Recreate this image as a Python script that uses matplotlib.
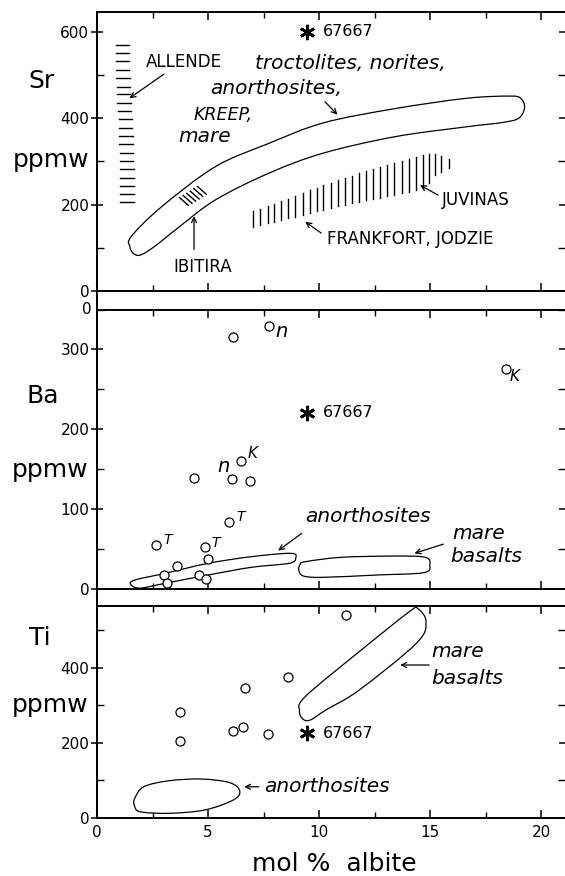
import numpy as np
import matplotlib
matplotlib.use('Agg')
import matplotlib.pyplot as plt
from matplotlib.path import Path
from matplotlib.patches import PathPatch
from matplotlib.lines import Line2D
from matplotlib.ticker import MultipleLocator

plt.rcParams['font.family'] = ['DejaVu Sans']

# ---------------- data ----------------
# 67667 (asterisk) in each panel
star_x = 9.45
sr_star = 600
ba_star = 221
ti_star = 225

# Sr panel: ALLENDE dashes (y values), x range of each dash
allende_y = [570, 551, 532, 512, 493, 473, 455, 436, 416, 397,
             378, 359, 339, 320, 301, 282, 262, 244, 224, 205]
allende_x0 = [0.85, 0.85, 0.85, 0.85, 0.87, 0.88, 0.9, 0.92, 0.95, 0.97,
              0.98, 1.0, 1.0, 1.02, 1.03, 1.05, 1.05, 1.05, 1.05, 1.05]
allende_x1 = [1.45, 1.45, 1.45, 1.45, 1.47, 1.48, 1.5, 1.52, 1.55, 1.57,
              1.58, 1.6, 1.6, 1.62, 1.63, 1.65, 1.65, 1.65, 1.65, 1.65]

# Sr field of lunar rocks (outline)
sr_field_x = [1.54, 2.91, 5.34, 7.76, 10.19, 13.42, 16.65, 18.59, 19.08, 19.26,
              19.0, 18.27, 16.65, 13.42, 10.19, 7.76, 5.34, 3.72, 2.59, 1.94,
              1.62, 1.48]
sr_field_y = [126, 195, 288, 342, 389, 422, 446, 451, 446, 425,
              400, 390, 380, 357, 319, 273, 211, 149, 103, 83,
              88, 103]

# IBITIRA short strokes (centres)
ibitira_x = [3.92, 4.08, 4.24, 4.40, 4.56, 4.72]
ibitira_y = [207, 212, 217, 222, 228, 233]

# eucrite band (JUVINAS / FRANKFORT, JODZIE) vertical strokes
euc_x = [7.04, 7.36, 7.68, 7.99, 8.31, 8.62, 8.94, 9.26, 9.58, 9.89,
         10.2, 10.52, 10.84, 11.16, 11.48, 11.8, 12.12, 12.44, 12.76, 13.08,
         13.4, 13.72, 14.04, 14.36, 14.67, 14.95, 15.22, 15.5, 15.84]
euc_top = [184, 190, 196, 202, 208, 214, 220, 227, 233, 239,
           245, 250, 256, 261, 267, 272, 277, 282, 287, 291,
           296, 300, 305, 310, 315, 317, 316, 313, 305]
euc_bot = [149, 153, 157, 160, 164, 168, 172, 176, 180, 184,
           188, 192, 196, 199, 203, 207, 210, 213, 216, 219,
           222, 226, 230, 234, 238, 250, 268, 276, 284]

# Ba panel points
ba_x = [6.14, 7.76, 18.4, 4.37, 6.47, 6.10, 6.90, 5.95, 2.68, 4.88,
        5.01, 3.59, 3.04, 3.15, 4.58, 4.90]
ba_y = [316, 329.5, 275, 138.7, 160.8, 137.5, 135.4, 83.7, 55.8, 52.5,
        37.9, 29.1, 17.9, 8.3, 17.4, 12.4]

ba_anor_x = [1.70, 3.07, 5.01, 6.95, 8.73, 8.95, 8.65, 6.95, 5.01, 3.07, 1.94, 1.52]
ba_anor_y = [11.6, 20, 32.5, 40.8, 45, 39, 32.5, 27.5, 17.9, 7.5, 1.5, 6]

ba_mare_x = [9.38, 10.99, 13.42, 14.79, 14.99, 14.71, 12.61, 10.19, 9.30, 9.09, 9.15]
ba_mare_y = [34.5, 40, 41.6, 40, 30.4, 20.8, 17.9, 15, 16.6, 24, 31]

# Ti panel points
ti_x = [11.2, 8.62, 6.66, 3.73, 3.73, 6.11, 6.58, 7.68]
ti_y = [540, 374, 346.5, 281, 204, 231, 243, 223]

ti_mare_x = [14.45, 14.82, 14.39, 11.8, 10.3, 9.62, 9.28, 9.12, 9.38, 11.8, 14.07]
ti_mare_y = [557, 522, 465, 340, 287, 261, 263, 285, 323, 442, 549]

ti_anor_x = [1.70, 2.10, 3.23, 4.69, 5.98, 6.43, 6.14, 4.85, 3.23, 1.94, 1.68]
ti_anor_y = [52, 83, 99, 103.7, 94, 71.8, 47.9, 21.3, 12.5, 16.8, 34.6]

x_ticks = [0, 5, 10, 15, 20]


def closed_curve(xs, ys):
    # closed Catmull-Rom outline through the traced points
    p = np.column_stack([xs, ys]).astype(float)
    n = len(p)
    verts = [p[0]]
    codes = [Path.MOVETO]
    for i in range(n):
        p0, p1, p2, p3 = p[i - 1], p[i], p[(i + 1) % n], p[(i + 2) % n]
        verts += [p1 + (p2 - p0) / 6.0, p2 - (p3 - p1) / 6.0, p2]
        codes += [Path.CURVE4] * 3
    return PathPatch(Path(verts, codes), facecolor='none', edgecolor='black', lw=0.9)


def arrow(ax, tail, head):
    ax.annotate('', xy=head, xytext=tail,
                arrowprops=dict(arrowstyle='->', lw=0.9, color='black',
                                shrinkA=0, shrinkB=0, mutation_scale=9))


W, H = 565, 876
fig = plt.figure(figsize=(W / 100, H / 100), dpi=100)
left = 97 / W
width = 1 - left


def make_ax(top_px, bot_px):
    return fig.add_axes([left, 1 - bot_px / H, width, (bot_px - top_px) / H])


ax_sr = make_ax(12, 291)
ax_ba = make_ax(309.5, 589.3)
ax_ti = make_ax(606, 818)

for ax, ylim, major, minor in [(ax_sr, 645.6, 200, 100),
                               (ax_ba, 350, 100, 50),
                               (ax_ti, 564, 200, 100)]:
    ax.set_xlim(0, 21.08)
    ax.set_ylim(0, ylim)
    ax.xaxis.set_major_locator(MultipleLocator(5))
    ax.xaxis.set_minor_locator(MultipleLocator(2.5))
    ax.yaxis.set_major_locator(MultipleLocator(major))
    ax.yaxis.set_minor_locator(MultipleLocator(minor))
    ax.spines['right'].set_visible(False)
    for s in ['left', 'top', 'bottom']:
        ax.spines[s].set_linewidth(1.4)
    ax.tick_params(axis='x', which='major', direction='in', length=6, width=1.1,
                   top=True, bottom=True, labelbottom=False)
    ax.tick_params(axis='x', which='minor', direction='in', length=4, width=1.0,
                   top=True, bottom=True)
    ax.tick_params(axis='y', which='major', direction='inout', length=9, width=1.1,
                   right=True, left=True, labelsize=11, pad=1)
    ax.tick_params(axis='y', which='minor', direction='in', length=5, width=1.0,
                   right=True, left=True)
    ax.set_facecolor('none')

ax_ti.tick_params(axis='x', which='major', labelbottom=True, labelsize=11, pad=5)
ax_ti.set_xticks(x_ticks)

# continuous left frame line through the gaps
fig.add_artist(Line2D([left, left], [1 - 818 / H, 1 - 12 / H], transform=fig.transFigure,
                      color='black', lw=1.4))

# ---------------- Sr ----------------
ax = ax_sr
for y, a, b in zip(allende_y, allende_x0, allende_x1):
    ax.plot([a, b], [y, y], color='black', lw=1.0)
ax.text(2.18, 531, 'ALLENDE', fontsize=12, ha='left', va='center')
arrow(ax, (3.02, 502), (1.46, 446))

ax.add_patch(closed_curve(sr_field_x, sr_field_y))
for cx, cy in zip(ibitira_x, ibitira_y):
    ax.plot([cx - 0.2, cx + 0.2], [cy + 9, cy - 9], color='black', lw=1.0)
ax.text(4.77, 56, 'IBITIRA', fontsize=12, ha='center', va='center')
arrow(ax, (4.37, 96), (4.37, 173))

for x, t, b in zip(euc_x, euc_top, euc_bot):
    ax.plot([x, x], [b, t], color='black', lw=1.0)
ax.text(15.52, 210, 'JUVINAS', fontsize=12, ha='left', va='center')
arrow(ax, (15.36, 222), (14.55, 245))
ax.text(10.35, 120, 'FRANKFORT, JODZIE', fontsize=12, ha='left', va='center')
arrow(ax, (10.1, 134), (9.38, 160))

ax.text(7.11, 527, 'troctolites, norites,', fontsize=14.5, style='italic', ha='left', va='center')
ax.text(5.09, 469, 'anorthosites,', fontsize=14.5, style='italic', ha='left', va='center')
arrow(ax, (10.27, 438), (10.83, 408))
ax.text(4.37, 408, 'KREEP,', fontsize=12.5, style='italic', ha='left', va='center')
ax.text(3.64, 357, 'mare', fontsize=14.5, style='italic', ha='left', va='center')

ax.plot(star_x, sr_star, marker=(6, 2, 0), ms=11, mew=2, color='black')
ax.text(10.19, sr_star, '67667', fontsize=11.5, ha='left', va='center')

# ---------------- Ba ----------------
ax = ax_ba
ax.plot(ba_x, ba_y, 'o', ms=6.5, mfc='white', mec='black', mew=0.9, zorder=3)
ax.plot(star_x, ba_star, marker=(6, 2, 0), ms=11, mew=2, color='black')
ax.text(10.19, ba_star, '67667', fontsize=11.5, ha='left', va='center')
ax.add_patch(closed_curve(ba_anor_x, ba_anor_y))
ax.add_patch(closed_curve(ba_mare_x, ba_mare_y))

ax.text(8.05, 322, 'n', fontsize=14, style='italic', ha='left', va='center')
ax.text(18.6, 266, 'K', fontsize=11, style='italic', ha='left', va='center')
ax.text(5.98, 153, 'n', fontsize=14, style='italic', ha='right', va='center')
ax.text(6.79, 170, 'K', fontsize=11, style='italic', ha='left', va='center')
ax.text(6.3, 91, 'T', fontsize=10, style='italic', ha='left', va='center')
ax.text(2.99, 62, 'T', fontsize=10, style='italic', ha='left', va='center')
ax.text(5.17, 58, 'T', fontsize=10, style='italic', ha='left', va='center')

ax.text(9.38, 91, 'anorthosites', fontsize=14.5, style='italic', ha='left', va='center')
arrow(ax, (9.22, 70), (8.16, 48.5))
ax.text(16.0, 70, 'mare', fontsize=14.5, style='italic', ha='left', va='center')
ax.text(15.93, 41, 'basalts', fontsize=14.5, style='italic', ha='left', va='center')
arrow(ax, (15.6, 56.5), (14.3, 45))
ax.text(-0.012, 1.0, '0', transform=ax.transAxes, fontsize=11, ha='right', va='center')

# ---------------- Ti ----------------
ax = ax_ti
ax.plot(ti_x, ti_y, 'o', ms=6.5, mfc='white', mec='black', mew=0.9, zorder=3)
ax.plot(star_x, ti_star, marker=(6, 2, 0), ms=11, mew=2, color='black')
ax.text(10.19, ti_star, '67667', fontsize=11.5, ha='left', va='center')
ax.add_patch(closed_curve(ti_mare_x, ti_mare_y))
ax.add_patch(closed_curve(ti_anor_x, ti_anor_y))
ax.text(7.52, 83, 'anorthosites', fontsize=14.5, style='italic', ha='left', va='center')
arrow(ax, (7.28, 83), (6.63, 83))
ax.text(15.04, 442, 'mare', fontsize=14.5, style='italic', ha='left', va='center')
ax.text(15.04, 371, 'basalts', fontsize=14.5, style='italic', ha='left', va='center')
arrow(ax, (14.96, 407), (13.66, 407))

# ---------------- side labels ----------------
def ftext(px, py, s, **kw):
    fig.text(px / W, 1 - py / H, s, fontsize=18, ha='center', va='baseline', **kw)

ftext(41, 88, 'Sr')
ftext(51, 167, 'ppmw')
ftext(43, 403, 'Ba')
ftext(50, 477, 'ppmw')
ftext(40, 645, 'Ti')
ftext(50, 712, 'ppmw')
ftext(334, 871, 'mol %  albite')

fig.savefig('out.png', dpi=100)
